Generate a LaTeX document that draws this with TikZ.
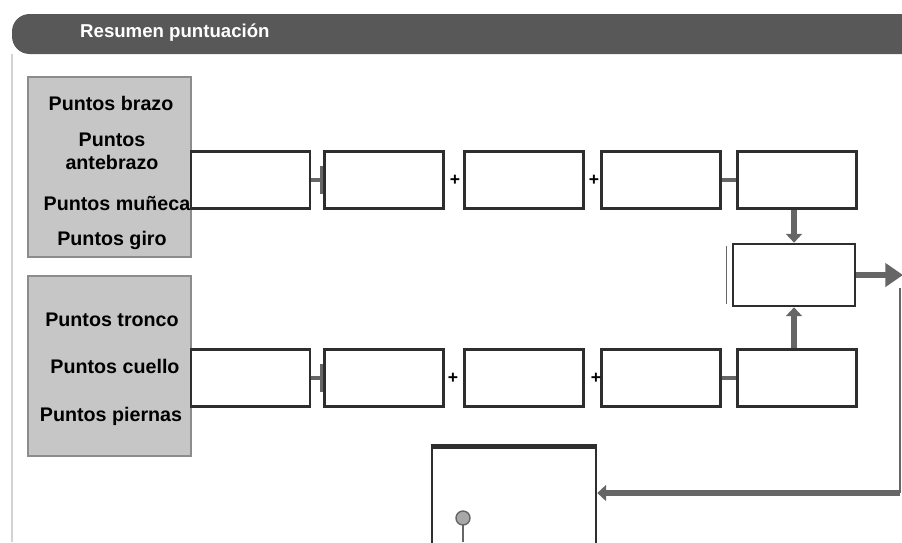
\documentclass[tikz,border=0pt]{standalone}
\usepackage{fontspec}
\setmainfont{Liberation Sans}
\usetikzlibrary{arrows.meta,positioning,calc}
\definecolor{bar}{HTML}{585858}
\definecolor{panel}{HTML}{C6C6C6}
\definecolor{panelrule}{HTML}{8C8C8C}
\definecolor{edge}{HTML}{2E2E2E}
\definecolor{pipe}{HTML}{666666}
\definecolor{knob}{HTML}{A8A8A8}
\definecolor{frame}{HTML}{D2D2D2}
\tikzset{
  cell/.style={draw=edge, line width=1.5pt, fill=white, inner sep=0pt,
    minimum width=2.38cm, minimum height=1.14cm},
  panelbox/.style={draw=panelrule, line width=1pt, fill=panel, inner sep=0pt,
    minimum width=3.26cm, minimum height=3.6cm},
  lbl/.style={font=\bfseries\fontsize{11.2}{13}\selectfont, align=center, text=black},
  joint/.style={draw=pipe, line width=2.6pt},
  plus/.style={font=\bfseries, inner sep=0pt},
  flow/.style={draw=pipe, line width=3.2pt, -{Triangle[width=9pt,length=5pt]}},
}
\begin{document}
\begin{tikzpicture}[x=0.02cm, y=-0.02cm]
  \useasboundingbox (0,0) rectangle (902,542);
  \clip (0,0) rectangle (902,542);
  % header
  \fill[bar, rounded corners=10pt] (12,14) rectangle (960,54);
  \node[font=\bfseries\fontsize{10.6}{13}\selectfont, text=white, anchor=west] (title) at (74,33) {Resumen puntuación};
  \draw[frame, line width=1pt] (12,54) -- (12,542);
  % input panels
  \node[panelbox] (arm) at (109.5,167) {};
  \node[panelbox] (body) at (109.5,366) {};
  \node[lbl] (brazo) at (111,103) {Puntos brazo};
  \node[lbl] (antebrazo) at (112,151) {Puntos\\antebrazo};
  \node[lbl] (muneca) at (117,203) {Puntos muñeca};
  \node[lbl] (giro) at (112,240) {Puntos giro};
  \node[lbl] (tronco) at (112,320) {Puntos tronco};
  \node[lbl] (cuello) at (115,366) {Puntos cuello};
  \node[lbl] (piernas) at (111,416) {Puntos piernas};
  % score rows
  \foreach \n/\cx in {a/250.5, b/384, c/524, d/661, e/797}{
    \node[cell] (up\n) at (\cx,180) {};
    \node[cell] (lo\n) at (\cx,378) {};
  }
  \node[cell, minimum width=2.44cm, minimum height=1.24cm] (total) at (794,275) {};
  \draw[pipe, line width=0.8pt] ([xshift=-3pt,yshift=-2pt]total.north west) -- ([xshift=-3pt,yshift=2pt]total.south west);
  \node[cell, minimum width=3.28cm, minimum height=4cm] (result) at (514,548) {};
  \draw[edge, line width=2.6pt] (result.north west) -- (result.north east);
  \filldraw[fill=knob, draw=pipe, line width=0.8pt] (463,518) circle (7);
  \draw[pipe, line width=0.7pt] (463,525) -- (463,542);
  % joints and sums
  \foreach \r in {up,lo}{
    \draw[joint, -{Bar[width=16pt,line width=1.8pt]}] (\r a) -- (\r b);
    \draw[joint] (\r d) -- (\r e);
  }
  \node[plus] (s1) at (455,180) {+};
  \node[plus] (s2) at (594,180) {+};
  \node[plus] (s3) at (453,378) {+};
  \node[plus] (s4) at (596,378) {+};
  % flow to total and result
  \draw[flow] (upe.south -| total.north) -- (total.north);
  \draw[flow] (loe.north -| total.south) -- (total.south);
  \coordinate (out) at (903,275);
  \draw[flow, -{Triangle[width=13pt,length=10pt]}] (total.east) -- (total.east -| out);
  \coordinate (ret) at (900,288);
  \coordinate (turn) at (900,493);
  \draw[pipe, line width=1pt] (ret) -- (turn);
  \draw[flow] (turn) -- (result.east |- turn);
\end{tikzpicture}
\end{document}
